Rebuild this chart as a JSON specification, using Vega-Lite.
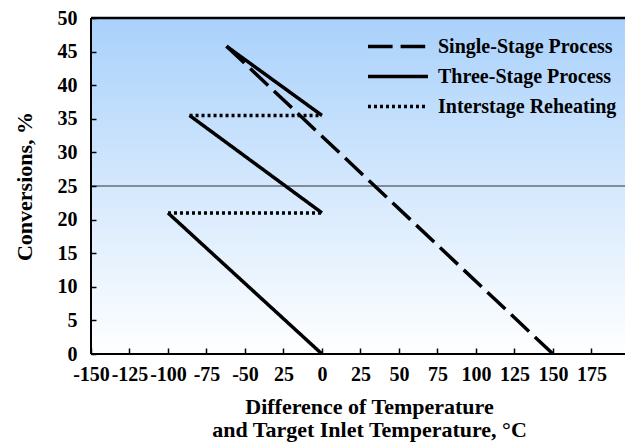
{
  "$schema": "https://vega.github.io/schema/vega-lite/v6.json",
  "width": 534,
  "height": 336,
  "autosize": "none",
  "padding": {"left": 91, "top": 18, "right": 0, "bottom": 92},
  "background": "white",
  "config": {
    "view": {"stroke": null},
    "font": "Liberation Serif",
    "axis": {
      "grid": false,
      "ticks": true,
      "domain": false,
      "tickColor": "black",
      "tickWidth": 1.5,
      "labelFont": "Liberation Serif",
      "labelFontSize": 20,
      "labelFontWeight": "bold",
      "labelColor": "black",
      "labelOverlap": false,
      "labelFlush": false,
      "labelBound": false,
      "titleFont": "Liberation Serif",
      "titleFontSize": 22,
      "titleFontWeight": "bold",
      "titleColor": "black"
    },
    "legend": {
      "orient": "none",
      "legendX": 275,
      "legendY": 20,
      "title": null,
      "symbolType": "stroke",
      "symbolSize": 3600,
      "symbolStrokeWidth": 3.5,
      "symbolStrokeColor": "black",
      "clipHeight": 17,
      "labelFont": "Liberation Serif",
      "labelFontSize": 20,
      "labelFontWeight": "bold",
      "labelColor": "black",
      "labelLimit": 300,
      "labelOffset": 8,
      "rowPadding": 9
    }
  },
  "layer": [
    {
      "data": {"values": [{}]},
      "mark": {
        "type": "rect",
        "fill": {
          "gradient": "linear",
          "x1": 0, "y1": 0, "x2": 0, "y2": 1,
          "stops": [
            {"offset": 0, "color": "#a9d1fb"},
            {"offset": 1, "color": "#ffffff"}
          ]
        }
      },
      "encoding": {}
    },
    {
      "data": {"values": [{"y": 25}]},
      "mark": {"type": "rule", "color": "#666c78", "strokeWidth": 1.5},
      "encoding": {
        "y": {
          "field": "y", "type": "quantitative",
          "scale": {"domain": [0, 50], "nice": false},
          "axis": {
            "values": [0, 5, 10, 15, 20, 25, 30, 35, 40, 45, 50],
            "zindex": 1,
            "offset": -5, "tickSize": 5, "labelPadding": 14,
            "title": "Conversions, %",
            "titleX": -72, "titleY": 168, "titleAngle": -90,
            "titleAlign": "center", "titleBaseline": "middle"
          }
        }
      }
    },
    {
      "data": {"values": [{"y": 50}]},
      "mark": {"type": "rule", "color": "black", "strokeWidth": 2.5},
      "encoding": {
        "y": {
          "field": "y", "type": "quantitative",
          "scale": {"domain": [0, 50], "nice": false},
          "axis": {
            "values": [0, 5, 10, 15, 20, 25, 30, 35, 40, 45, 50],
            "zindex": 1,
            "offset": -5, "tickSize": 5, "labelPadding": 14,
            "title": "Conversions, %",
            "titleX": -72, "titleY": 168, "titleAngle": -90,
            "titleAlign": "center", "titleBaseline": "middle"
          }
        }
      }
    },
    {
      "data": {"values": [{"y": 0}]},
      "mark": {"type": "rule", "color": "black", "strokeWidth": 2},
      "encoding": {
        "y": {
          "field": "y", "type": "quantitative",
          "scale": {"domain": [0, 50], "nice": false},
          "axis": {
            "values": [0, 5, 10, 15, 20, 25, 30, 35, 40, 45, 50],
            "zindex": 1,
            "offset": -5, "tickSize": 5, "labelPadding": 14,
            "title": "Conversions, %",
            "titleX": -72, "titleY": 168, "titleAngle": -90,
            "titleAlign": "center", "titleBaseline": "middle"
          }
        }
      }
    },
    {
      "data": {"values": [{"x": -150}]},
      "mark": {"type": "rule", "color": "black", "strokeWidth": 2},
      "encoding": {
        "x": {
          "field": "x", "type": "quantitative",
          "scale": {"domain": [-150, 196.8], "nice": false, "zero": false},
          "axis": {
            "values": [-150, -125, -100, -75, -50, -25, 0, 25, 50, 75, 100, 125, 150, 175],
            "labelExpr": "datum.value == -25 ? '25' : '' + datum.value",
            "zindex": 1,
            "offset": -6, "tickSize": 6, "labelPadding": 10,
            "title": ["Difference of Temperature", "and Target Inlet Temperature, °C"],
            "titleX": 278, "titleY": 48, "titleAlign": "center",
            "titleBaseline": "top", "titleLineHeight": 23
          }
        }
      }
    },
    {
      "data": {
        "values": [
          {"seg": "A", "type": "Single-Stage Process", "ord": 1, "x": -62, "y": 45.8},
          {"seg": "A", "type": "Single-Stage Process", "ord": 2, "x": 150, "y": 0},
          {"seg": "B", "type": "Three-Stage Process", "ord": 1, "x": 0, "y": 0},
          {"seg": "B", "type": "Three-Stage Process", "ord": 2, "x": -100, "y": 21},
          {"seg": "C", "type": "Interstage Reheating", "ord": 1, "x": -100, "y": 21},
          {"seg": "C", "type": "Interstage Reheating", "ord": 2, "x": 0, "y": 21},
          {"seg": "D", "type": "Three-Stage Process", "ord": 1, "x": 0, "y": 21},
          {"seg": "D", "type": "Three-Stage Process", "ord": 2, "x": -86, "y": 35.5},
          {"seg": "E", "type": "Interstage Reheating", "ord": 1, "x": -86, "y": 35.5},
          {"seg": "E", "type": "Interstage Reheating", "ord": 2, "x": 0, "y": 35.5},
          {"seg": "F", "type": "Three-Stage Process", "ord": 1, "x": 0, "y": 35.5},
          {"seg": "F", "type": "Three-Stage Process", "ord": 2, "x": -62, "y": 45.8}
        ]
      },
      "mark": {"type": "line", "color": "black", "strokeWidth": 3.5, "strokeCap": "butt"},
      "encoding": {
        "x": {
          "field": "x", "type": "quantitative",
          "scale": {"domain": [-150, 196.8], "nice": false, "zero": false},
          "axis": {
            "values": [-150, -125, -100, -75, -50, -25, 0, 25, 50, 75, 100, 125, 150, 175],
            "labelExpr": "datum.value == -25 ? '25' : '' + datum.value",
            "zindex": 1,
            "offset": -6, "tickSize": 6, "labelPadding": 10,
            "title": ["Difference of Temperature", "and Target Inlet Temperature, °C"],
            "titleX": 278, "titleY": 48, "titleAlign": "center",
            "titleBaseline": "top", "titleLineHeight": 23
          }
        },
        "y": {
          "field": "y", "type": "quantitative",
          "scale": {"domain": [0, 50], "nice": false},
          "axis": {
            "values": [0, 5, 10, 15, 20, 25, 30, 35, 40, 45, 50],
            "zindex": 1,
            "offset": -5, "tickSize": 5, "labelPadding": 14,
            "title": "Conversions, %",
            "titleX": -72, "titleY": 168, "titleAngle": -90,
            "titleAlign": "center", "titleBaseline": "middle"
          }
        },
        "detail": {"field": "seg"},
        "order": {"field": "ord"},
        "strokeDash": {
          "field": "type",
          "type": "nominal",
          "scale": {
            "domain": ["Single-Stage Process", "Three-Stage Process", "Interstage Reheating"],
            "range": [[24.6, 8], [1, 0], [3, 3]]
          }
        }
      }
    }
  ]
}
